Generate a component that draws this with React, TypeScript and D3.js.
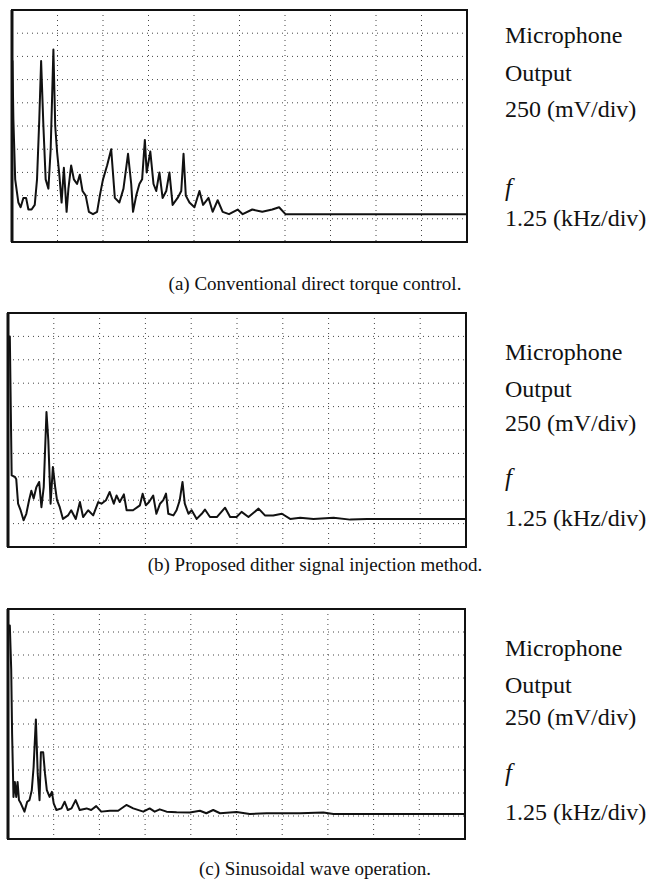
import React, { useEffect, useRef } from "react";
import * as d3 from "d3";

// spectra, in screen divisions (x: 1.25 kHz/div, y: 250 mV/div)
const freqA = [0.01, 0.03, 0.07, 0.14, 0.19, 0.25, 0.31, 0.36, 0.43, 0.5, 0.55, 0.6, 0.64, 0.69, 0.74, 0.8, 0.85, 0.91, 0.95, 0.99, 1.04, 1.09, 1.14, 1.2, 1.24, 1.3, 1.36, 1.43, 1.49, 1.55, 1.62, 1.69, 1.78, 1.87, 1.93, 2.0, 2.09, 2.18, 2.26, 2.36, 2.45, 2.55, 2.62, 2.66, 2.73, 2.8, 2.86, 2.92, 2.96, 3.04, 3.11, 3.17, 3.24, 3.31, 3.39, 3.46, 3.53, 3.64, 3.72, 3.77, 3.82, 3.9, 4.01, 4.12, 4.2, 4.32, 4.41, 4.52, 4.63, 4.77, 4.96, 5.07, 5.28, 5.5, 5.72, 5.87, 6.01, 6.23, 6.45, 6.74, 7.04, 7.4, 7.77, 8.5, 10];
const levelA = [7.8, 5.3, 2.7, 1.7, 1.5, 1.9, 1.9, 1.4, 1.4, 1.6, 2.7, 5.3, 7.8, 5.0, 2.7, 2.3, 4.0, 8.3, 5.0, 3.9, 2.9, 1.7, 3.2, 1.3, 2.3, 3.3, 2.7, 2.5, 2.9, 2.2, 2.0, 1.3, 1.2, 1.3, 2.0, 2.7, 3.3, 4.0, 1.9, 1.7, 2.3, 3.8, 2.5, 1.3, 2.0, 2.5, 2.7, 4.4, 3.0, 3.9, 2.5, 2.2, 3.0, 1.9, 2.2, 3.0, 1.6, 1.9, 2.2, 3.8, 2.0, 1.7, 1.5, 2.2, 1.6, 1.9, 1.3, 1.8, 1.3, 1.2, 1.4, 1.2, 1.4, 1.3, 1.4, 1.5, 1.2, 1.2, 1.2, 1.2, 1.2, 1.2, 1.2, 1.2, 1.2];

const freqB = [0.04, 0.08, 0.15, 0.18, 0.22, 0.27, 0.34, 0.4, 0.46, 0.51, 0.56, 0.62, 0.68, 0.73, 0.78, 0.84, 0.88, 0.93, 0.98, 1.03, 1.07, 1.13, 1.2, 1.31, 1.38, 1.48, 1.57, 1.64, 1.75, 1.86, 1.97, 2.04, 2.14, 2.22, 2.31, 2.37, 2.44, 2.53, 2.59, 2.73, 2.88, 2.94, 3.01, 3.08, 3.17, 3.24, 3.32, 3.39, 3.45, 3.5, 3.61, 3.68, 3.75, 3.81, 3.86, 3.94, 4.01, 4.12, 4.23, 4.3, 4.41, 4.56, 4.74, 4.85, 4.99, 5.1, 5.25, 5.47, 5.61, 5.79, 5.98, 6.16, 6.38, 6.67, 7.11, 7.47, 7.84, 8.56, 10];
const levelB = [9.0, 3.06, 3.0, 2.9, 1.85, 1.6, 1.14, 1.42, 2.0, 2.4, 2.07, 2.56, 2.78, 1.7, 2.56, 5.77, 4.56, 1.85, 3.42, 2.56, 2.0, 1.7, 1.2, 1.35, 1.57, 1.2, 1.92, 1.28, 1.57, 1.35, 1.92, 1.85, 2.0, 2.35, 1.85, 2.2, 1.92, 2.25, 1.57, 1.57, 1.78, 2.28, 1.78, 1.92, 2.2, 1.42, 1.85, 2.0, 2.28, 1.42, 1.35, 1.57, 2.0, 2.78, 1.85, 1.42, 1.57, 1.2, 1.42, 1.6, 1.28, 1.28, 1.68, 1.28, 1.28, 1.5, 1.28, 1.64, 1.35, 1.35, 1.42, 1.2, 1.25, 1.2, 1.25, 1.17, 1.2, 1.2, 1.2];

const freqC = [0.04, 0.07, 0.09, 0.12, 0.15, 0.18, 0.21, 0.24, 0.28, 0.36, 0.42, 0.47, 0.52, 0.56, 0.61, 0.65, 0.69, 0.72, 0.77, 0.81, 0.85, 0.91, 0.96, 1.0, 1.06, 1.17, 1.24, 1.31, 1.39, 1.48, 1.57, 1.72, 1.82, 1.93, 2.04, 2.23, 2.41, 2.59, 2.74, 2.96, 3.1, 3.21, 3.32, 3.47, 3.69, 3.98, 4.2, 4.34, 4.49, 4.64, 5.0, 5.29, 5.66, 6.39, 6.9, 7.12, 10];
const levelC = [9.28, 7.4, 4.56, 1.83, 2.48, 1.83, 2.48, 1.69, 1.55, 1.19, 1.62, 1.69, 2.12, 3.12, 5.2, 2.84, 1.69, 3.77, 3.77, 2.84, 2.12, 1.83, 2.05, 1.55, 1.26, 1.33, 1.62, 1.26, 1.33, 1.69, 1.26, 1.33, 1.26, 1.43, 1.19, 1.23, 1.23, 1.48, 1.33, 1.19, 1.33, 1.19, 1.29, 1.19, 1.16, 1.15, 1.23, 1.12, 1.26, 1.12, 1.17, 1.09, 1.12, 1.12, 1.15, 1.09, 1.09];

const captions = [
  "(a) Conventional direct torque control.",
  "(b) Proposed dither signal injection method.",
  "(c) Sinusoidal wave operation.",
];
const sideLabels = ["Microphone", "Output", "250 (mV/div)", "f", "1.25 (kHz/div)"];
const divisions = d3.range(0, 11);

const layout = [
  { fx: freqA, ly: levelA, left: 12, top: 10, right: 467, bottom: 242, capY: 290, labY: [43, 81, 117, 196, 226] },
  { fx: freqB, ly: levelB, left: 8, top: 313, right: 466, bottom: 547, capY: 571, labY: [360, 397, 431, 486, 526] },
  { fx: freqC, ly: levelC, left: 8, top: 609, right: 465, bottom: 839, capY: 875, labY: [656, 693, 725, 781, 820] },
];

export default function App() {
  const ref = useRef<SVGSVGElement>(null);

  useEffect(() => {
    const svg = d3.select(ref.current);
    svg.selectAll("*").remove();

    layout.forEach((p, i) => {
      const x = d3.scaleLinear().domain([0, 10]).range([p.left, p.right]);
      const y = d3.scaleLinear().domain([0, 10]).range([p.bottom, p.top]);
      const g = svg.append("g");

      // dotted graticule
      g.selectAll(".vg")
        .data(divisions.slice(1, 10))
        .join("line")
        .attr("x1", (d) => x(d))
        .attr("x2", (d) => x(d))
        .attr("y1", p.top)
        .attr("y2", p.bottom)
        .attr("stroke", "#444")
        .attr("stroke-width", 1)
        .attr("stroke-dasharray", "1 4");
      g.selectAll(".hg")
        .data(divisions.slice(1, 10))
        .join("line")
        .attr("class", "hg")
        .attr("x1", p.left)
        .attr("x2", p.right)
        .attr("y1", (d) => y(d))
        .attr("y2", (d) => y(d))
        .attr("stroke", "#444")
        .attr("stroke-width", 1)
        .attr("stroke-dasharray", "1 4");

      // trace
      const pts = p.fx.map((f, k) => [f, p.ly[k]] as [number, number]);
      const line = d3
        .line<[number, number]>()
        .x((d) => x(d[0]))
        .y((d) => y(d[1]));
      g.append("path")
        .attr("d", line([[0, p.ly[0]], ...pts]))
        .attr("fill", "none")
        .attr("stroke", "#111")
        .attr("stroke-width", 2)
        .attr("stroke-linejoin", "round");

      // frame
      g.append("rect")
        .attr("x", p.left)
        .attr("y", p.top)
        .attr("width", p.right - p.left)
        .attr("height", p.bottom - p.top)
        .attr("fill", "none")
        .attr("stroke", "#111")
        .attr("stroke-width", 2);
      g.append("line")
        .attr("x1", p.left)
        .attr("x2", p.left)
        .attr("y1", p.top)
        .attr("y2", p.bottom)
        .attr("stroke", "#111")
        .attr("stroke-width", 3);

      // side labels
      sideLabels.forEach((t, k) => {
        g.append("text")
          .attr("x", 505)
          .attr("y", p.labY[k])
          .attr("font-family", "'Liberation Serif', 'Times New Roman', serif")
          .attr("font-size", k === 3 ? 25 : 24)
          .attr("font-style", k === 3 ? "italic" : "normal")
          .attr("fill", "#111")
          .text(t);
      });

      g.append("text")
        .attr("x", 315)
        .attr("y", p.capY)
        .attr("text-anchor", "middle")
        .attr("font-family", "'Liberation Serif', 'Times New Roman', serif")
        .attr("font-size", 19)
        .attr("fill", "#111")
        .text(captions[i]);
    });
  }, []);

  return (
    <div style={{ position: "absolute", left: 0, top: 0 }}>
      <svg ref={ref} width={669} height={884} style={{ background: "#fff", display: "block" }} />
    </div>
  );
}
